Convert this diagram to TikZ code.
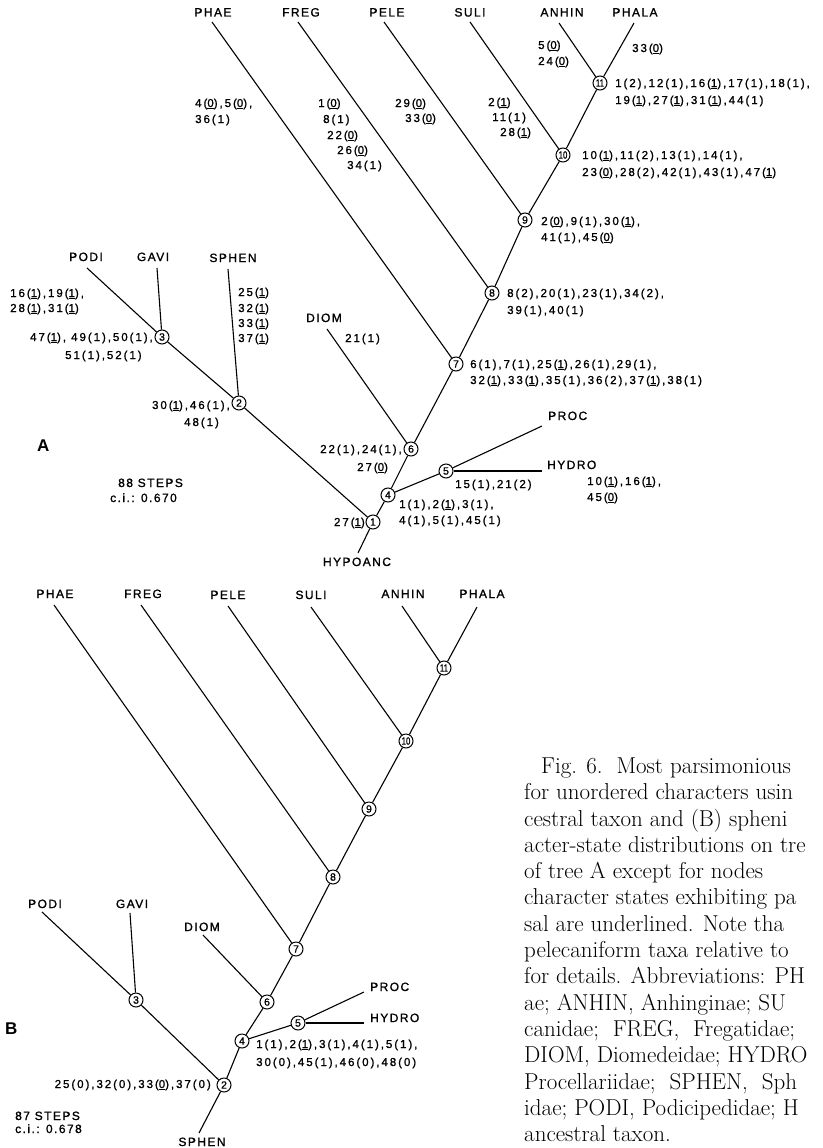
\documentclass[tikz,border=0pt]{standalone}
\usepackage{graphicx}
\usepackage{fontspec}
\newfontfamily\lsansch[LetterSpace=17,FakeBold=1.2]{Liberation Sans}
\newfontfamily\lsanstx[LetterSpace=12,FakeBold=1.2]{Liberation Sans}
\newfontfamily\lsansnd[FakeBold=1.0]{Liberation Sans}
\newfontfamily\lsansbig{Liberation Sans}
\newcommand\chfont{\lsansch\fontsize{11.5}{13}\selectfont}
\newcommand\txfont{\lsanstx\fontsize{12}{13}\selectfont}
\newcommand\ndfont{\lsansnd\fontsize{10.5}{12}\selectfont}
\newcommand\bigfont{\lsansbig\bfseries\fontsize{17}{19}\selectfont}
\newcommand\capfont{\rmfamily\fontsize{23}{26}\selectfont}
\newcommand\udl[1]{\underline{#1}}
\newcommand\tw[1]{\scalebox{0.75}[1]{#1}}
\begin{document}
\begin{tikzpicture}[x=1pt,y=-1pt,
  br/.style={line width=1.1pt},
  nd/.style={circle, draw, line width=1.0pt, inner sep=0pt, minimum size=14pt, font=\ndfont, fill=white},
  tx/.style={font=\txfont, inner sep=0pt, anchor=base},
  txl/.style={font=\txfont, inner sep=0pt, anchor=base west},
  cl/.style={font=\chfont, inner sep=0pt, anchor=base west},
  clr/.style={font=\chfont, inner sep=0pt, anchor=base east},
  captxt/.style={font=\capfont, inner sep=0pt, anchor=base west},
  bigl/.style={font=\bigfont, inner sep=0pt, anchor=base west}]
\useasboundingbox (0,0) rectangle (822,1148);

% ================= TREE A =================
\node[nd] (a1) at (373,522) {1};
\node[nd] (a2) at (239,403) {2};
\node[nd] (a3) at (162,337) {3};
\node[nd] (a4) at (388,495) {4};
\node[nd] (a5) at (446,471) {5};
\node[nd] (a6) at (411,449) {6};
\node[nd] (a7) at (456,364) {7};
\node[nd] (a8) at (492,293) {8};
\node[nd] (a9) at (525,220) {9};
\node[nd] (a10) at (563,155) {\tw{10}};
\node[nd] (a11) at (600,83) {\tw{11}};

\node[tx] (phaeA) at (213,16.5) {PHAE};
\node[tx] (fregA) at (301,16.5) {FREG};
\node[tx] (peleA) at (387,16.5) {PELE};
\node[tx] (suliA) at (470,16.5) {SULI};
\node[tx] (anhinA) at (562,16.5) {ANHIN};
\node[tx] (phalaA) at (635,16.5) {PHALA};
\node[tx] (podiA) at (86,261) {PODI};
\node[tx] (gaviA) at (153,261) {GAVI};
\node[tx] (sphenA) at (233,262) {SPHEN};
\node[tx] (diomA) at (324,322) {DIOM};
\node[txl] (procA) at (548,420) {PROC};
\node[txl] (hydroA) at (547,469) {HYDRO};
\node[tx] (hypoA) at (357,566) {HYPOANC};

\coordinate (phaeAt) at (212,22);
\coordinate (fregAt) at (298,22);
\coordinate (peleAt) at (384,22);
\coordinate (suliAt) at (470,22);
\coordinate (anhinAt) at (559,23);
\coordinate (phalaAt) at (634,23);
\coordinate (podiAt) at (87,268);
\coordinate (gaviAt) at (157,268);
\coordinate (sphenAt) at (228,269);
\coordinate (diomAt) at (327,329);
\coordinate (procAt) at (542,426);
\coordinate (hydroAt) at (542,471);
\coordinate (hypoAt) at (358,553);

\draw[br] (a1) -- (a2);
\draw[br] (a2) -- (a3);
\draw[br] (a3) -- (podiAt);
\draw[br] (a3) -- (gaviAt);
\draw[br] (a2) -- (sphenAt);
\draw[br] (a1) -- (a4);
\draw[br] (a4) -- (a5);
\draw[br] (a5) -- (procAt);
\draw[br] (a5) -- (hydroAt);
\draw[br] (a4) -- (a6);
\draw[br] (a6) -- (diomAt);
\draw[br] (a6) -- (a7);
\draw[br] (a7) -- (phaeAt);
\draw[br] (a7) -- (a8);
\draw[br] (a8) -- (fregAt);
\draw[br] (a8) -- (a9);
\draw[br] (a9) -- (peleAt);
\draw[br] (a9) -- (a10);
\draw[br] (a10) -- (suliAt);
\draw[br] (a10) -- (a11);
\draw[br] (a11) -- (anhinAt);
\draw[br] (a11) -- (phalaAt);
\draw[br] (a1) -- (hypoAt);

% character labels, tree A
\node[cl] (la11a) at (615,87) {1(2),12(1),16(\udl{1}),17(1),18(1),};
\node[cl] (la11b) at (615,104) {19(\udl{1}),27(\udl{1}),31(\udl{1}),44(1)};
\node[cl] (la10a) at (582,159) {10(\udl{1}),11(2),13(1),14(1),};
\node[cl] (la10b) at (582,176) {23(\udl{0}),28(2),42(1),43(1),47(\udl{1})};
\node[cl] (la9a) at (541,225) {2(\udl{0}),9(1),30(\udl{1}),};
\node[cl] (la9b) at (541,241) {41(1),45(\udl{0})};
\node[cl] (la8a) at (507,297) {8(2),20(1),23(1),34(2),};
\node[cl] (la8b) at (507,314) {39(1),40(1)};
\node[cl] (la7a) at (470,368) {6(1),7(1),25(\udl{1}),26(1),29(1),};
\node[cl] (la7b) at (470,384) {32(\udl{1}),33(\udl{1}),35(1),36(2),37(\udl{1}),38(1)};
\node[clr] (la6a) at (402,453) {22(1),24(1),};
\node[cl] (la6b) at (357,471) {27(\udl{0})};
\node[cl] (la5) at (455,488) {15(1),21(2)};
\node[cl] (la4a) at (399,508) {1(1),2(\udl{1}),3(1),};
\node[cl] (la4b) at (399,524) {4(1),5(1),45(1)};
\node[clr] (la1) at (365,526) {27(\udl{1})};
\node[clr] (la2a) at (230,409) {30(\udl{1}),46(1),};
\node[cl] (la2b) at (184,426) {48(1)};
\node[cl] (lpodiA) at (10,297) {16(\udl{1}),19(\udl{1}),};
\node[cl] (lpodiB) at (10,312) {28(\udl{1}),31(\udl{1})};
\node[clr] (la3a) at (153,341) {47(\udl{1}), 49(1),50(1),};
\node[cl] (la3b) at (65,359) {51(1),52(1)};
\node[cl] (lsph1) at (238,296) {25(\udl{1})};
\node[cl] (lsph2) at (238,312) {32(\udl{1})};
\node[cl] (lsph3) at (238,327) {33(\udl{1})};
\node[cl] (lsph4) at (238,342) {37(\udl{1})};
\node[cl] (ldiom) at (345,342) {21(1)};
\node[cl] (lphae1) at (195,107) {4(\udl{0}),5(\udl{0}),};
\node[cl] (lphae2) at (195,123) {36(1)};
\node[cl] (lfreg1) at (318,107) {1(\udl{0})};
\node[cl] (lfreg2) at (323,123) {8(1)};
\node[cl] (lfreg3) at (327,139) {22(\udl{0})};
\node[cl] (lfreg4) at (337,154) {26(\udl{0})};
\node[cl] (lfreg5) at (347,169) {34(1)};
\node[cl] (lpele1) at (395,107) {29(\udl{0})};
\node[cl] (lpele2) at (405,122) {33(\udl{0})};
\node[cl] (lsuli1) at (488,106) {2(\udl{1})};
\node[cl] (lsuli2) at (492,121) {11(1)};
\node[cl] (lsuli3) at (500,136) {28(\udl{1})};
\node[cl] (lanh1) at (538,49) {5(\udl{0})};
\node[cl] (lanh2) at (538,65) {24(\udl{0})};
\node[cl] (lphala) at (632,52) {33(\udl{0})};
\node[cl] (lhyd1) at (587,485) {10(\udl{1}),16(\udl{1}),};
\node[cl] (lhyd2) at (587,501) {45(\udl{0})};
\node[bigl] (labA) at (37,451) {A};
\node[txl] (stepsA) at (118,487) {88 STEPS};
\node[txl] (ciA) at (110,502) {c.i.: 0.670};

% ================= TREE B =================
\node[nd] (b2) at (224,1085) {2};
\node[nd] (b3) at (136,1000) {3};
\node[nd] (b4) at (242,1041) {4};
\node[nd] (b5) at (298,1023) {5};
\node[nd] (b6) at (267,1002) {6};
\node[nd] (b7) at (296,949) {7};
\node[nd] (b8) at (333,877) {8};
\node[nd] (b9) at (369,809) {9};
\node[nd] (b10) at (406,741) {\tw{10}};
\node[nd] (b11) at (444,668) {\tw{11}};

\node[tx] (phaeB) at (55,598) {PHAE};
\node[tx] (fregB) at (143,598) {FREG};
\node[tx] (peleB) at (228,599) {PELE};
\node[tx] (suliB) at (311,599) {SULI};
\node[tx] (anhinB) at (403,598) {ANHIN};
\node[tx] (phalaB) at (482,598) {PHALA};
\node[tx] (podiB) at (45,908) {PODI};
\node[tx] (gaviB) at (132,908) {GAVI};
\node[tx] (diomB) at (202,931) {DIOM};
\node[txl] (procB) at (370,991) {PROC};
\node[txl] (hydroB) at (370,1022) {HYDRO};
\node[tx] (sphenB) at (202,1146) {SPHEN};

\coordinate (phaeBt) at (54,605);
\coordinate (fregBt) at (141,605);
\coordinate (peleBt) at (228,606);
\coordinate (suliBt) at (311,607);
\coordinate (anhinBt) at (402,606);
\coordinate (phalaBt) at (477,607);
\coordinate (podiBt) at (42,912);
\coordinate (gaviBt) at (130,913);
\coordinate (diomBt) at (203,935);
\coordinate (procBt) at (364,992);
\coordinate (hydroBt) at (364,1023);
\coordinate (sphenBt) at (199,1133);

\draw[br] (b2) -- (b3);
\draw[br] (b3) -- (podiBt);
\draw[br] (b3) -- (gaviBt);
\draw[br] (b2) -- (sphenBt);
\draw[br] (b2) -- (b4);
\draw[br] (b4) -- (b5);
\draw[br] (b5) -- (procBt);
\draw[br] (b5) -- (hydroBt);
\draw[br] (b4) -- (b6);
\draw[br] (b6) -- (diomBt);
\draw[br] (b6) -- (b7);
\draw[br] (b7) -- (phaeBt);
\draw[br] (b7) -- (b8);
\draw[br] (b8) -- (fregBt);
\draw[br] (b8) -- (b9);
\draw[br] (b9) -- (peleBt);
\draw[br] (b9) -- (b10);
\draw[br] (b10) -- (suliBt);
\draw[br] (b10) -- (b11);
\draw[br] (b11) -- (anhinBt);
\draw[br] (b11) -- (phalaBt);

\node[cl] (lb4a) at (256,1048) {1(1),2(\udl{1}),3(1),4(1),5(1),};
\node[cl] (lb4b) at (256,1066) {30(0),45(1),46(0),48(0)};
\node[clr] (lb2) at (211,1088) {25(0),32(0),33(\udl{0}),37(0)};
\node[bigl] (labB) at (5,1034) {B};
\node[txl] (stepsB) at (15,1120) {87 STEPS};
\node[txl] (ciB) at (15,1133) {c.i.: 0.678};

% ================= CAPTION =================
\begin{scope}
\clip (0,0) rectangle (822,1148);
\node[captxt] (c1) at (541,773.4) {Fig. 6.\ \ Most parsimonious};
\node[captxt] (c2) at (524,799.7) {for unordered characters usin};
\node[captxt] (c3) at (524,826) {cestral taxon and (B) spheni};
\node[captxt] (c4) at (524,852.3) {acter-state distributions on tre};
\node[captxt] (c5) at (524,878.6) {of tree A except for nodes};
\node[captxt] (c6) at (524,904.9) {character states exhibiting pa};
\node[captxt] (c7) at (524,931.2) {sal are underlined. Note tha};
\node[captxt] (c8) at (524,957.5) {pelecaniform taxa relative to};
\node[captxt] (c9) at (524,983.8) {for details. Abbreviations: PH};
\node[captxt] (c10) at (524,1010.1) {ae; ANHIN, Anhinginae; SU};
\node[captxt] (c11) at (524,1036.4) {canidae;\ \ FREG,\ \ Fregatidae;};
\node[captxt] (c12) at (524,1062.7) {DIOM, Diomedeidae; HYDRO};
\node[captxt] (c13) at (524,1089) {Procellariidae;\ \ SPHEN,\ \ Sph};
\node[captxt] (c14) at (524,1115.3) {idae; PODI, Podicipedidae; H};
\node[captxt] (c15) at (524,1141.6) {ancestral taxon.};
\end{scope}
\end{tikzpicture}
\end{document}
